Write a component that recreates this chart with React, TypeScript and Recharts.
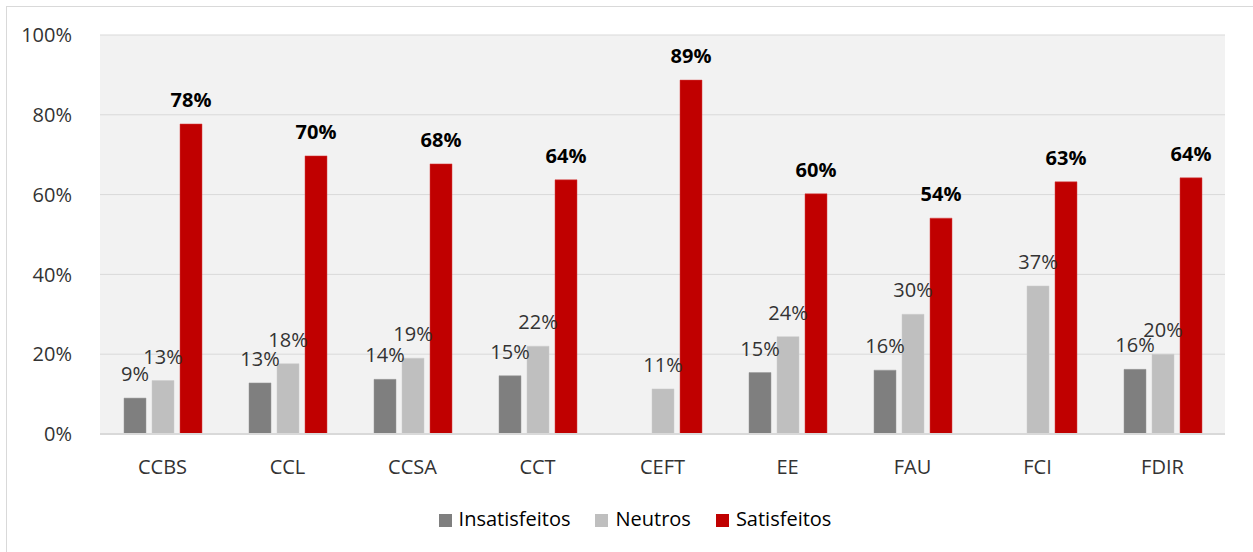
import React from 'react';
import { BarChart, Bar, XAxis, YAxis, CartesianGrid, Legend, LabelList } from 'recharts';

const categories = ['CCBS', 'CCL', 'CCSA', 'CCT', 'CEFT', 'EE', 'FAU', 'FCI', 'FDIR'];
const insatisfeitos: (number | null)[] = [9.0, 12.8, 13.7, 14.6, null, 15.4, 16.0, null, 16.2];
const neutros = [13.4, 17.6, 19.0, 22.0, 11.3, 24.4, 30.0, 37.1, 20.0];
const satisfeitos = [77.7, 69.7, 67.7, 63.7, 88.7, 60.2, 54.1, 63.2, 64.2];
const yTicks = [0, 20, 40, 60, 80, 100];

const data = categories.map((c, i) => ({
  name: c,
  Insatisfeitos: insatisfeitos[i],
  Neutros: neutros[i],
  Satisfeitos: satisfeitos[i],
}));

const FONT = '"Open Sans", "Noto Sans", sans-serif';
const fmt = (v: any) => (v == null ? '' : `${Math.round(v)}%`);

export default function App() {
  return (
    <div style={{ position: 'absolute', left: 0, top: 0, width: 1253, height: 552, background: '#fff', fontFamily: FONT }}>
      <div style={{ position: 'absolute', left: 6, top: 6, width: 1260, height: 560, border: '1px solid #d9d9d9' }} />
      <BarChart
        width={1253}
        height={552}
        data={data}
        margin={{ top: 35, right: 28, left: 40, bottom: 20 }}
        barGap={6}
        barCategoryGap="19%"
      >
        <CartesianGrid vertical={false} stroke="#d9d9d9" fill="#f2f2f2" />
        <XAxis
          dataKey="name"
          tickLine={false}
          axisLine={{ stroke: '#d9d9d9', strokeWidth: 2 }}
          tick={{ fill: '#333333', fontSize: 20, fontFamily: FONT }}
          tickMargin={20}
          height={71}
          interval={0}
        />
        <YAxis
          domain={[0, 100]}
          ticks={yTicks}
          tickFormatter={(v: number) => `${v}%`}
          tickLine={false}
          axisLine={false}
          tick={{ fill: '#333333', fontSize: 20, fontFamily: FONT }}
          tickMargin={22}
          width={60}
        />
        <Legend
          verticalAlign="bottom"
          align="center"
          iconType="square"
          iconSize={13}
          wrapperStyle={{ fontFamily: FONT, fontSize: 20, color: '#000', left: 55 }}
          formatter={(value: string) => <span style={{ color: '#000', marginLeft: 3, marginRight: 15 }}>{value}</span>}
        />
        <Bar dataKey="Insatisfeitos" fill="#7f7f7f" stroke="#999999" strokeWidth={0.5} barSize={22} isAnimationActive={false}>
          <LabelList dataKey="Insatisfeitos" position="top" offset={17} formatter={fmt} style={{ fill: '#333333', fontSize: 20, fontFamily: FONT }} />
        </Bar>
        <Bar dataKey="Neutros" fill="#bfbfbf" stroke="#cccccc" strokeWidth={0.5} barSize={22} isAnimationActive={false}>
          <LabelList dataKey="Neutros" position="top" offset={17} formatter={fmt} style={{ fill: '#333333', fontSize: 20, fontFamily: FONT }} />
        </Bar>
        <Bar dataKey="Satisfeitos" fill="#c00000" stroke="#d84040" strokeWidth={0.5} barSize={22} isAnimationActive={false}>
          <LabelList dataKey="Satisfeitos" position="top" offset={17} formatter={fmt} style={{ fill: '#000', fontSize: 20, fontWeight: 700, fontFamily: FONT }} />
        </Bar>
      </BarChart>
    </div>
  );
}
